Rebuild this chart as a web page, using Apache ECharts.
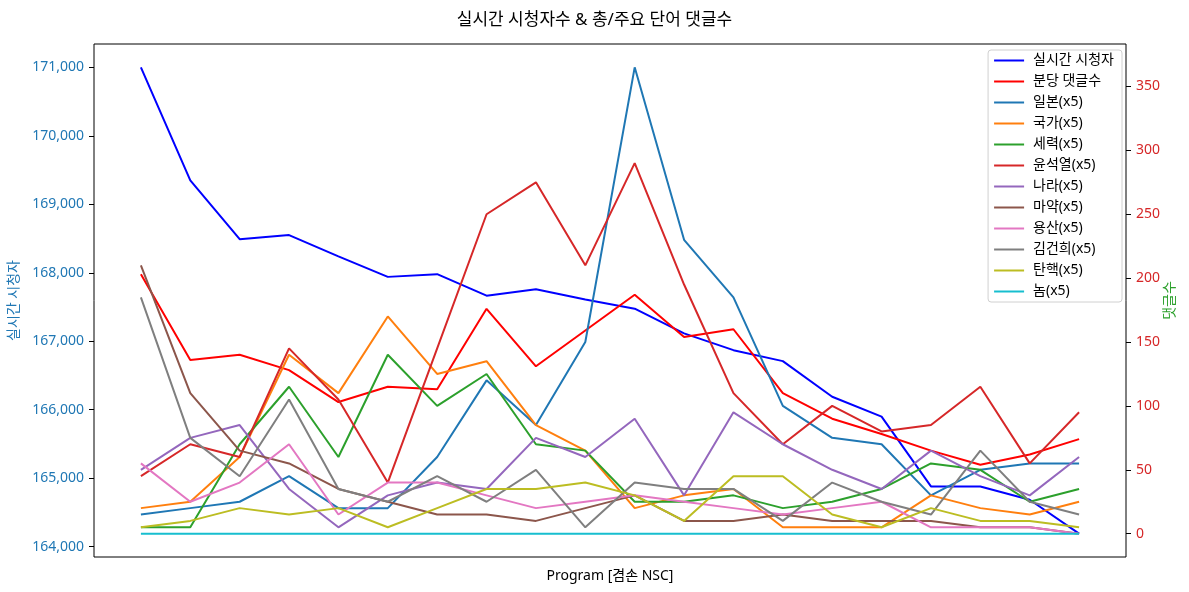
<!DOCTYPE html>
<html>
<head>
<meta charset="utf-8">
<script src="https://cdn.jsdelivr.net/npm/echarts@6/dist/echarts.min.js"></script>
<style>
html,body{margin:0;padding:0;background:#fff;}
#chart{width:1189px;height:592px;}
</style>
</head>
<body>
<div id="chart"></div>
<script>
// ---- data ----
const title = '실시간 시청자수 & 총/주요 단어 댓글수';
const xLabel = 'Program [겸손 NSC]';
const leftName = '실시간 시청자';
const rightName = '댓글수';
const leftTicks = [164000, 165000, 166000, 167000, 168000, 169000, 170000, 171000];
const rightTicks = [0, 50, 100, 150, 200, 250, 300, 350];

const viewers = [171000, 169350, 168490, 168550, 168240, 167940, 167980, 167665, 167760, 167610,
                 167475, 167115, 166870, 166710, 166190, 165900, 164880, 164880, 164685, 164190];
const commentsPerMin = [203, 136, 140, 128, 103, 115, 113, 176, 131, 159,
                        187, 154, 160, 110, 90, 78, 65, 54, 62, 74];

const wordScale = 5;
const wordNames = ['일본', '국가', '세력', '윤석열', '나라', '마약', '용산', '김건희', '탄핵', '놈'];
const w_japan   = [3, 4, 5, 9, 4, 4, 12, 24, 17, 30, 73, 46, 37, 20, 15, 14, 6, 10, 11, 11];
const w_nation  = [4, 5, 12, 28, 22, 34, 25, 27, 17, 13, 4, 6, 7, 1, 1, 1, 6, 4, 3, 5];
const w_force   = [1, 1, 14, 23, 12, 28, 20, 25, 14, 13, 5, 5, 6, 4, 5, 7, 11, 10, 5, 7];
const w_yoon    = [9, 14, 12, 29, 21, 8, 29, 50, 55, 42, 58, 39, 22, 14, 20, 16, 17, 23, 11, 19];
const w_country = [10, 15, 17, 7, 1, 6, 8, 7, 15, 12, 18, 6, 19, 14, 10, 7, 13, 9, 6, 12];
const w_drug    = [42, 22, 13, 11, 7, 5, 3, 3, 2, 4, 6, 2, 2, 3, 2, 2, 2, 1, 1, 0];
const w_yongsan = [11, 5, 8, 14, 3, 8, 8, 6, 4, 5, 6, 5, 4, 3, 4, 5, 1, 1, 1, 0];
const w_kim     = [37, 15, 9, 21, 7, 5, 9, 5, 10, 1, 8, 7, 7, 2, 8, 5, 3, 13, 5, 3];
const w_impeach = [1, 2, 4, 3, 4, 1, 4, 7, 7, 8, 6, 2, 9, 9, 3, 1, 4, 2, 2, 1];
const w_guy     = [0, 0, 0, 0, 0, 0, 0, 0, 0, 0, 0, 0, 0, 0, 0, 0, 0, 0, 0, 0];
const wordCounts = [w_japan, w_nation, w_force, w_yoon, w_country, w_drug, w_yongsan, w_kim, w_impeach, w_guy];

// ---- styles ----
const tab10 = ['#1f77b4', '#ff7f0e', '#2ca02c', '#d62728', '#9467bd', '#8c564b', '#e377c2', '#7f7f7f', '#bcbd22', '#17becf'];
const FONT = "'Noto Sans', 'Noto Sans CJK KR', sans-serif";
const LW = 2;

const n = viewers.length;
const idx = viewers.map((_, i) => i);
const pair = arr => arr.map((v, i) => [idx[i], v]);

// matplotlib-like 5% margins
function pad(lo, hi) { const r = hi - lo; return [lo - 0.05 * r, hi + 0.05 * r]; }
const xr = pad(0, n - 1);
const lr = pad(Math.min(...viewers), Math.max(...viewers));
const scaledWords = wordCounts.map(a => a.map(v => v * wordScale));
const allRight = [].concat(commentsPerMin, ...scaledWords);
const rr = pad(Math.min(...allRight), Math.max(...allRight));

const series = [];
series.push({ name: '실시간 시청자', type: 'line', yAxisIndex: 0, data: pair(viewers),
  symbol: 'none', color: '#0000ff', lineStyle: { width: LW, color: '#0000ff' }, animation: false });
series.push({ name: '분당 댓글수', type: 'line', yAxisIndex: 1, data: pair(commentsPerMin),
  symbol: 'none', color: '#ff0000', lineStyle: { width: LW, color: '#ff0000' }, animation: false });
wordNames.forEach((w, k) => {
  series.push({ name: w + '(x' + wordScale + ')', type: 'line', yAxisIndex: 1, data: pair(scaledWords[k]),
    symbol: 'none', color: tab10[k], lineStyle: { width: LW, color: tab10[k] }, animation: false });
});

const chart = echarts.init(document.getElementById('chart'), null, { renderer: 'canvas' });
chart.setOption({
  backgroundColor: '#fff',
  animation: false,
  textStyle: { fontFamily: FONT },
  title: { text: title, left: 'center', top: 7,
    textStyle: { fontFamily: FONT, fontSize: 17, fontWeight: 'normal', color: '#000' } },
  grid: { left: 94, right: 63, top: 44, bottom: 35, containLabel: false, outerBoundsMode: 'none',
    show: true, borderColor: '#000', borderWidth: 1, backgroundColor: 'transparent' },
  legend: {
    orient: 'vertical', right: 67, top: 50,
    backgroundColor: 'rgba(255,255,255,0.85)', borderColor: '#d0d0d0', borderWidth: 1, borderRadius: 3,
    padding: [3, 8, 3, 6], itemWidth: 30, itemHeight: 2, itemGap: 6, icon: 'rect',
    textStyle: { fontFamily: FONT, fontSize: 14, lineHeight: 15, color: '#000', padding: [0, 0, 0, 4] },
    data: series.map(s => ({ name: s.name, itemStyle: { color: s.color } }))
  },
  xAxis: {
    type: 'value', min: xr[0], max: xr[1],
    name: xLabel, nameLocation: 'middle', nameGap: 12,
    nameTextStyle: { fontFamily: FONT, fontSize: 14, color: '#000' },
    axisLine: { show: false, onZero: false }, axisTick: { show: false }, axisLabel: { show: false }, splitLine: { show: false }
  },
  yAxis: [
    {
      type: 'value', position: 'left', min: lr[0], max: lr[1],
      name: leftName, nameLocation: 'middle', nameGap: 73, nameRotate: 90,
      nameTextStyle: { fontFamily: FONT, fontSize: 14, color: '#1f77b4' },
      axisLine: { show: false, onZero: false },
      axisTick: { show: true, length: 5, customValues: leftTicks, lineStyle: { color: '#000' } },
      axisLabel: { customValues: leftTicks, margin: 10, fontFamily: FONT, fontSize: 14, color: '#1f77b4',
        formatter: v => Number(v).toLocaleString('en-US') },
      splitLine: { show: false }
    },
    {
      type: 'value', position: 'right', min: rr[0], max: rr[1],
      name: rightName, nameLocation: 'middle', nameGap: 37, nameRotate: 90, nameMoveOverlap: false,
      nameTextStyle: { fontFamily: FONT, fontSize: 14, color: '#2ca02c' },
      axisLine: { show: false, onZero: false },
      axisTick: { show: true, length: 5, customValues: rightTicks, lineStyle: { color: '#000' } },
      axisLabel: { customValues: rightTicks, margin: 10, fontFamily: FONT, fontSize: 14, color: '#d62728' },
      splitLine: { show: false }
    }
  ],
  series: series
});
</script>
</body>
</html>
